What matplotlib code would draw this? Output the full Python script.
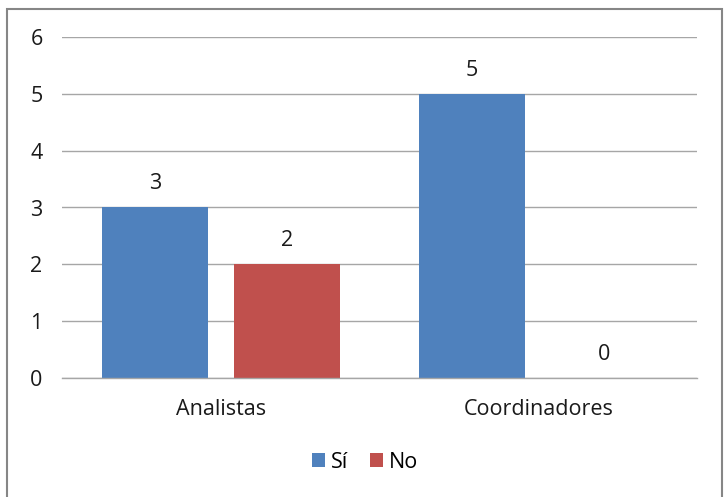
import matplotlib.pyplot as plt
from matplotlib.patches import Rectangle
import numpy as np

categories = ["Analistas", "Coordinadores"]
series_names = ["Sí", "No"]
si_values = [3, 5]
no_values = [2, 0]
y_ticks = [0, 1, 2, 3, 4, 5, 6]

plt.rcParams['font.family'] = ['Open Sans', 'DejaVu Sans']
FS = 15.5

fig = plt.figure(figsize=(7.24, 4.97), dpi=100)
ax = fig.add_axes([62/724, 1 - 378/497, (697 - 62)/724, (378 - 37)/497])

x = np.arange(len(categories))
width = 0.334
offset = 0.208
blue = "#4F81BD"
red = "#C0504D"
bars_si = ax.bar(x - offset, si_values, width, color=blue, label=series_names[0])
bars_no = ax.bar(x + offset, no_values, width, color=red, label=series_names[1])

for bars in (bars_si, bars_no):
    for b in bars:
        ax.annotate(str(int(b.get_height())), (b.get_x() + b.get_width()/2, b.get_height()),
                    xytext=(0, 17), textcoords="offset points", ha="center", va="center",
                    fontsize=FS, color="#1a1a1a")

ax.set_xlim(-0.5, 1.5)
ax.set_ylim(0, 6)
ax.set_yticks(y_ticks)
ax.set_xticks(x)
ax.set_xticklabels(categories)
ax.tick_params(axis="both", length=0, labelsize=FS, colors="#1a1a1a")
ax.tick_params(axis="y", pad=14)
ax.tick_params(axis="x", pad=15)
ax.yaxis.grid(True, color="#A6A6A6", linewidth=1)
ax.set_axisbelow(True)
for s in ["top", "right", "left"]:
    ax.spines[s].set_visible(False)
ax.spines["bottom"].set_color("#A6A6A6")
ax.spines["bottom"].set_linewidth(1)

fig.legend(handles=[bars_si, bars_no], labels=series_names, loc="center",
           bbox_to_anchor=(365/724, 1 - 462/497), ncol=2, frameon=False,
           fontsize=FS, handlelength=0.6, handleheight=0.6, handletextpad=0.3,
           columnspacing=1.0)

fig.patches.append(Rectangle((7/724, -0.02), (722 - 7)/724, 1 - 9/497 + 0.02,
                             transform=fig.transFigure, fill=False,
                             edgecolor="#868686", linewidth=1.5))

fig.savefig("out.png", dpi=100)
